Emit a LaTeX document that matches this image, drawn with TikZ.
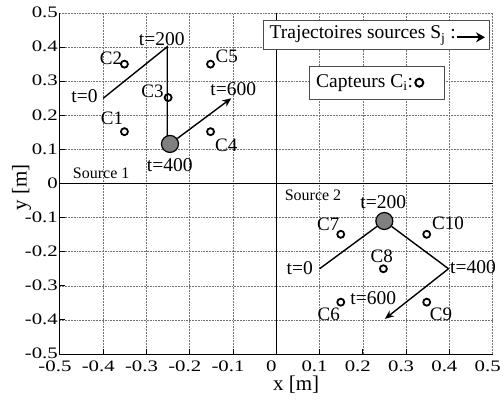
\documentclass[tikz,border=0pt]{standalone}
\usepackage{fontspec}
\setmainfont{Liberation Serif}
\newfontfamily\tickfont[FakeStretch=1.3]{Liberation Serif}
\usetikzlibrary{arrows.meta}
\tikzset{
  gridl/.style={densely dotted, gray!90!black, line width=0.55pt},
  axisl/.style={black, line width=1pt},
  ticklbl/.style={font=\tickfont\fontsize{16}{16}\selectfont, inner sep=0pt},
  lbl/.style={font=\fontsize{19.5}{20}\selectfont, inner sep=0pt},
  clbl/.style={font=\fontsize{19}{20}\selectfont, inner sep=0pt},
  srclbl/.style={font=\fontsize{16}{17}\selectfont, inner sep=0pt},
  axlbl/.style={font=\fontsize{21}{22}\selectfont, inner sep=0pt},
  sensor/.style={circle, draw, line width=1.8pt, minimum size=7pt, inner sep=0pt},
  srcnode/.style={circle, draw, fill=gray, line width=1.2pt, minimum size=17pt, inner sep=0pt},
  traj/.style={line width=1.4pt},
  trajarrow/.style={line width=1.4pt, -{Stealth[length=9pt,width=7.5pt]}},
  legbox/.style={draw=black!70, fill=white, line width=1pt, inner sep=0pt},
}
\begin{document}
\begin{tikzpicture}
\useasboundingbox (0,0) rectangle (504pt,408pt);
% ---------- data scope ----------
\begin{scope}[x=432.7pt, y=341pt, shift={(276.3pt,224.5pt)}]
  % grid
  \foreach \v in {-0.4,-0.3,-0.2,-0.1,0.1,0.2,0.3,0.4,0.5} {
    \draw[gridl] (\v,-0.5) -- (\v,0.5);
    \draw[gridl] (-0.5,\v) -- (0.5,\v);
  }
  % axes through origin
  \draw[axisl] (-0.5,0) -- (0.5,0);
  \draw[axisl] (0,-0.5) -- (0,0.5);
  % frame (left + bottom)
  \draw[axisl] (-0.5,0.5) -- (-0.5,-0.5) -- (0.5,-0.5);
  % ticks
  \foreach \v in {-0.4,-0.3,-0.2,-0.1,0,0.1,0.2,0.3,0.4} {
    \draw[axisl] (\v,-0.5) -- ++(0,5pt);
    \draw[axisl] (-0.5,\v) -- ++(5pt,0);
  }
  % trajectory points
  \coordinate (a0) at (-0.4,0.25);
  \coordinate (a200) at (-0.252,0.401);
  \coordinate (a400) at (-0.252,0.116);
  \coordinate (a600) at (-0.104,0.25);
  \coordinate (b0) at (0.1,-0.25);
  \coordinate (b400) at (0.398,-0.25);
  \coordinate (b600) at (0.251,-0.397);
  % sensors
  \node[sensor] (c1) at (-0.351,0.152) {};
  \node[sensor] (c2) at (-0.351,0.35) {};
  \node[sensor] (c3) at (-0.25,0.252) {};
  \node[sensor] (c4) at (-0.152,0.152) {};
  \node[sensor] (c5) at (-0.152,0.35) {};
  \node[sensor] (c6) at (0.149,-0.348) {};
  \node[sensor] (c7) at (0.149,-0.149) {};
  \node[sensor] (c8) at (0.2475,-0.25) {};
  \node[sensor] (c9) at (0.3476,-0.348) {};
  \node[sensor] (c10) at (0.3476,-0.149) {};
  % source 1
  \draw[traj] (a0) -- (a200) -- (a400);
  \node[srcnode] (s1) at (-0.2457,0.116) {};
  \draw[trajarrow] (s1) -- (a600);
  % source 2
  \node[srcnode] (s2) at (0.2497,-0.11) {};
  \draw[traj] (b0) -- (s2) -- (b400);
  \draw[trajarrow] (b400) -- (b600);
\end{scope}
% ---------- pixel scope (image coordinates, y down) ----------
\begin{scope}[x=1pt, y=-1pt, shift={(0pt,408pt)}]
  % y tick labels
  \foreach \v/\t in {0.5/0.5,0.4/0.4,0.3/0.3,0.2/0.2,0.1/0.1,0/0,-0.1/-0.1,-0.2/-0.2,-0.3/-0.3,-0.4/-0.4,-0.5/-0.5} {
    \node[ticklbl, anchor=east] (yt\t) at (58, {183.5-341*\v-0.5}) {\t};
  }
  % x tick labels
  \foreach \v/\t in {-0.5/-0.5,-0.4/-0.4,-0.3/-0.3,-0.2/-0.2,-0.1/-0.1,0/0,0.1/0.1,0.2/0.2,0.3/0.3,0.4/0.4,0.5/0.5} {
    \node[ticklbl] (xt\t) at ({276.3+432.7*\v-5}, 366.5) {\t};
  }
  % axis labels
  \node[axlbl] (xlab) at (296.2,384.5) {x [m]};
  \node[axlbl, rotate=90] (ylab) at (21.7,187.5) {y [m]};
  % source 1 labels
  \node[srclbl] (src1lbl) at (101.2,173.3) {Source 1};
  \node[lbl] (la0) at (84.5,96.3) {t=0};
  \node[lbl] (la200) at (161.7,39) {t=200};
  \node[lbl] (la400) at (169.7,165) {t=400};
  \node[lbl] (la600) at (233.3,89.5) {t=600};
  \node[clbl] (lc1) at (112,118.3) {C1};
  \node[clbl] (lc2) at (111,58.7) {C2};
  \node[clbl] (lc3) at (152.5,91.7) {C3};
  \node[clbl] (lc4) at (226.3,145) {C4};
  \node[clbl] (lc5) at (226.7,56.2) {C5};
  % source 2 labels
  \node[srclbl] (src2lbl) at (313,195.5) {Source 2};
  \node[lbl] (lb0) at (299.7,268) {t=0};
  \node[lbl] (lb200) at (383.3,201.7) {t=200};
  \node[lbl] (lb400) at (473,267.3) {t=400};
  \node[lbl] (lb600) at (373.3,298.3) {t=600};
  \node[clbl] (lc6) at (328.8,314) {C6};
  \node[clbl] (lc7) at (328.3,224.2) {C7};
  \node[clbl] (lc8) at (381.7,255.8) {C8};
  \node[clbl] (lc9) at (441,314) {C9};
  \node[clbl] (lc10) at (448,223.3) {C10};
  % legend 1
  \node[legbox, minimum width=226pt, minimum height=29pt] (leg1) at (376.3,35.5) {};
  \node[lbl, anchor=west] (leg1txt) at (269.5,35.5) {Trajectoires sources S\textsubscript{j} :};
  \coordinate (leg1a) at (456.7,37.3);
  \coordinate (leg1b) at (485,37.3);
  \draw[line width=2.4pt, -{Stealth[length=9pt,width=10pt]}] (leg1a) -- (leg1b);
  % legend 2
  \node[legbox, minimum width=134.7pt, minimum height=32.6pt] (leg2) at (376.7,83) {};
  \node[lbl, anchor=west] (leg2txt) at (316,83) {Capteurs C\textsubscript{i}:};
  \node[sensor, minimum size=8pt, line width=2pt] (leg2mk) at (419.3,82.7) {};
\end{scope}
\end{tikzpicture}
\end{document}
